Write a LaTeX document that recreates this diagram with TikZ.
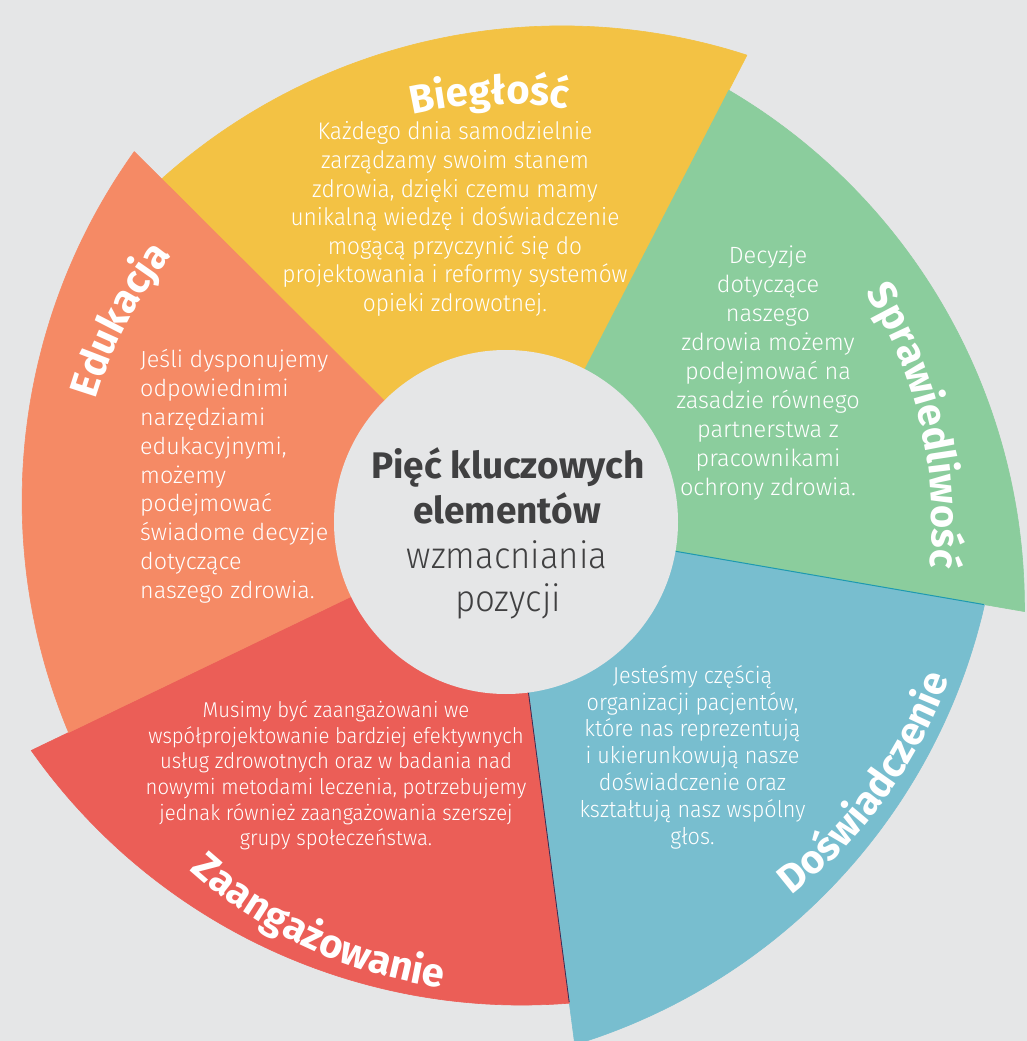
\documentclass[tikz,border=0pt]{standalone}
\usepackage{fontspec}
\usetikzlibrary{decorations.text}
\newfontfamily\lightf{Fira Sans Light}
\newfontfamily\hubf{Fira Sans Light}[FakeStretch=0.94]
\newfontfamily\condf{Fira Sans Light}[FakeStretch=0.945]
\newfontfamily\semif{Fira Sans Light}[FakeStretch=0.94]
\newfontfamily\headf{Fira Sans}
\definecolor{bgc}{HTML}{E5E6E7}
\definecolor{yel}{HTML}{F3C244}
\definecolor{grn}{HTML}{8BCD9D}
\definecolor{blu}{HTML}{78BECF}
\definecolor{rdc}{HTML}{EB5E57}
\definecolor{org}{HTML}{F58A65}
\definecolor{ink}{HTML}{404041}
\definecolor{seamA}{HTML}{1E9AAE}
\definecolor{seamB}{HTML}{33305A}
\begin{document}
\begin{tikzpicture}[x=1pt,y=1pt,
  declare function={rr(\t,\p)=100*(1.18*cos(\t-(\p))+sqrt(36-(1.18*sin(\t-(\p)))^2));},
  wedge/.style={line width=0.6pt, line join=round},
  body/.style={text=white, inner sep=0pt, anchor=base},
  hubtext/.style={anchor=base, inner sep=0pt, text=ink},
  headtext/.style={decoration={text along path, text align=center, text color=white,
     text={|\headf\bfseries\fontsize{40}{40}\selectfont|#1}}, decorate},
]
\useasboundingbox (-506,-519) rectangle (521,522);
\fill[bgc] (-506,-519) rectangle (521,522);
% wedges
\filldraw[yel, wedge] (0,0) -- plot[domain=62.7:135.1, samples=90] ({rr(\x,-61.7)*cos(\x)},{rr(\x,-61.7)*sin(\x)}) -- cycle;
\filldraw[grn, wedge] (0,0) -- plot[domain=-9.8:62.7, samples=90] ({rr(\x,-133.7)*cos(\x)},{rr(\x,-133.7)*sin(\x)}) -- cycle;
\filldraw[blu, wedge] (0,0) -- plot[domain=-82.5:-9.8, samples=90] ({rr(\x,154.3)*cos(\x)},{rr(\x,154.3)*sin(\x)}) -- cycle;
\filldraw[rdc, wedge] (0,0) -- plot[domain=-154.3:-82.5, samples=90] ({rr(\x,82.3)*cos(\x)},{rr(\x,82.3)*sin(\x)}) -- cycle;
\filldraw[org, wedge] (0,0) -- plot[domain=135.1:205.7, samples=90] ({rr(\x,10.3)*cos(\x)},{rr(\x,10.3)*sin(\x)}) -- cycle;
% thin seams
\draw[seamA, line width=1pt] (-9.8:172) -- (-9.8:485);
\draw[seamB, line width=0.8pt] (-82.5:172) -- (-82.5:484);
% hub
\node[circle, fill=bgc, minimum size=344pt, inner sep=0pt] (hub) at (0,0) {};
\node[hubtext, font=\headf\bfseries\fontsize{37}{37}\selectfont] (c1) at (2,43) {Pięć kluczowych};
\node[hubtext, font=\headf\bfseries\fontsize{37}{37}\selectfont] (c2) at (1,-1.3) {elementów};
\node[hubtext, font=\hubf\fontsize{37}{37}\selectfont] (c3) at (1,-46.3) {wzmacniania};
\node[hubtext, font=\hubf\fontsize{37}{37}\selectfont] (c4) at (2,-89.7) {pozycji};
% headings along arcs
\path[headtext=Biegłość] (132.2:418) arc[start angle=132.2, end angle=52.2, radius=418];
\path[headtext=Sprawiedliwość] (53.2:426) arc[start angle=53.2, end angle=-26.8, radius=426];
\path[headtext=Doświadczenie] (-76:470) arc[start angle=-76, end angle=4, radius=470];
\path[headtext=Zaangażowanie] (-155:470) arc[start angle=-155, end angle=-75, radius=470];
\path[headtext=Edukacja] (192.4:428) arc[start angle=192.4, end angle=112.4, radius=428];
% body texts
\foreach \l [count=\i] in {Każdego dnia samodzielnie, zarządzamy swoim stanem, {zdrowia, dzięki czemu mamy}, unikalną wiedzę i doświadczenie, mogącą przyczynić się do, projektowania i reformy systemów, opieki zdrowotnej.}
  \node[body, font=\condf\fontsize{24}{24}\selectfont] (y\i) at (-51,{382-(\i-1)*28.6}) {\l};
\foreach \l [count=\i] in {Decyzje, dotyczące, naszego, zdrowia możemy, podejmować na, zasadzie równego, partnerstwa z, pracownikami, ochrony zdrowia.}
  \node[body, font=\lightf\fontsize{23.5}{23.5}\selectfont] (g\i) at (262,{258-(\i-1)*29}) {\l};
\foreach \l [count=\i] in {Jeśli dysponujemy, odpowiednimi, narzędziami, {edukacyjnymi,}, możemy, podejmować, świadome decyzje, dotyczące, naszego zdrowia.}
  \node[body, anchor=base west, font=\lightf\fontsize{23.3}{23.3}\selectfont] (o\i) at (-366,{154-(\i-1)*28.8}) {\l};
\foreach \l [count=\i] in {Musimy być zaangażowani we, współprojektowanie bardziej efektywnych, usług zdrowotnych oraz w badania nad, {nowymi metodami leczenia, potrzebujemy}, jednak również zaangażowania szerszej, grupy społeczeństwa.}
  \node[body, font=\condf\fontsize{21.5}{21.5}\selectfont] (r\i) at (-170,{-195.3-(\i-1)*25.7}) {\l};
\foreach \l [count=\i] in {Jesteśmy częścią, {organizacji pacjentów,}, które nas reprezentują, i ukierunkowują nasze, doświadczenie oraz, kształtują nasz wspólny, głos.}
  \node[body, font=\semif\fontsize{23}{23}\selectfont] (b\i) at (186.5,{-161.3-(\i-1)*26.8}) {\l};
\end{tikzpicture}
\end{document}
